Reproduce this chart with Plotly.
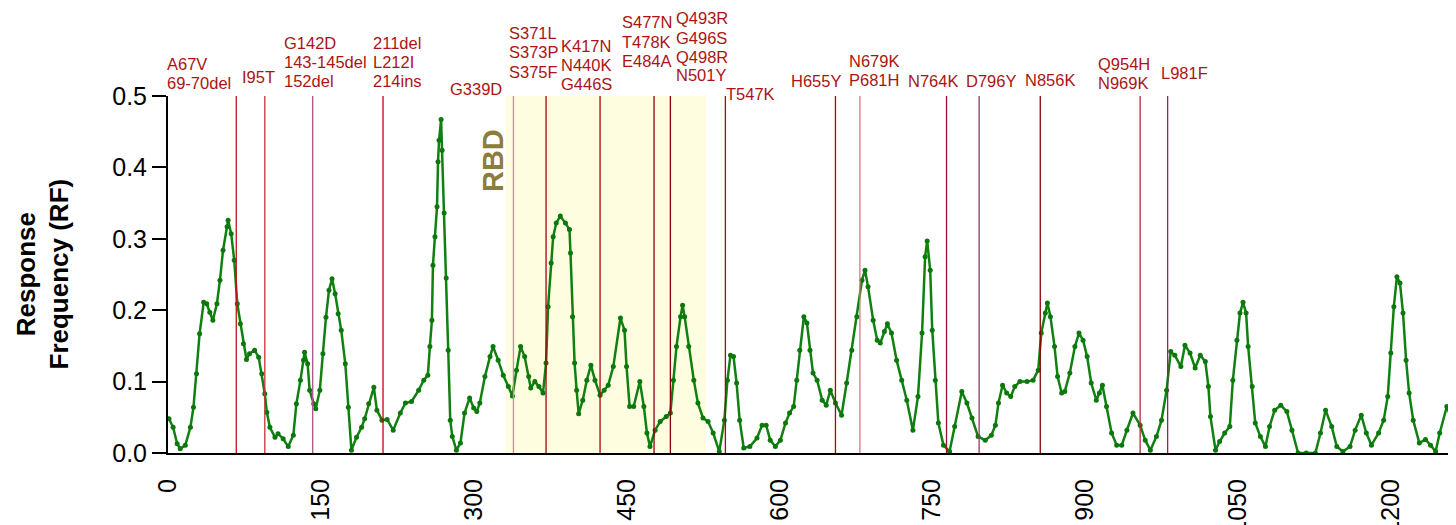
import plotly.graph_objects as go

# ---------------- data ----------------
residue_nterm = [1, 5, 9, 12, 17, 22, 25, 28, 31, 35, 38, 41, 44, 48, 51, 54, 58, 59, 62, 65, 68, 71, 74, 77, 80,
                 85, 89, 92, 95, 97, 100, 105, 108, 113, 118, 123, 126, 130, 133, 134, 137, 139, 143, 145, 149,
                 152, 155, 158, 161, 164, 167, 170, 174, 177, 180, 185, 190, 193, 197, 202, 205, 210]
rf_nterm = [0.048, 0.036, 0.013, 0.006, 0.011, 0.036, 0.064, 0.111, 0.167, 0.211, 0.209, 0.197, 0.186, 0.209,
            0.242, 0.284, 0.317, 0.326, 0.307, 0.270, 0.209, 0.181, 0.153, 0.131, 0.139, 0.144, 0.134, 0.111,
            0.083, 0.057, 0.036, 0.022, 0.027, 0.020, 0.009, 0.025, 0.069, 0.102, 0.130, 0.141, 0.125, 0.088,
            0.069, 0.062, 0.088, 0.139, 0.190, 0.228, 0.244, 0.223, 0.195, 0.172, 0.125, 0.064, 0.004, 0.022,
            0.036, 0.048, 0.069, 0.092, 0.060, 0.046]

residue_mid = [215, 221, 228, 233, 239, 246, 251, 255, 257, 259, 260, 262, 264, 265, 266, 268, 269, 271, 273,
               275, 277, 279, 283, 287, 291, 296, 300, 303, 306, 311, 316, 319, 324, 329, 334, 338, 342, 346,
               350, 354, 356, 360, 364, 368, 371, 373, 376, 378, 381, 385, 390, 394, 395, 397, 399, 401, 403,
               407, 411, 415, 419, 424]
rf_mid = [0.047, 0.032, 0.056, 0.070, 0.072, 0.088, 0.102, 0.109, 0.149, 0.186, 0.263, 0.303, 0.345, 0.408,
          0.438, 0.467, 0.424, 0.336, 0.245, 0.144, 0.046, 0.023, 0.004, 0.014, 0.056, 0.077, 0.063, 0.058,
          0.070, 0.107, 0.135, 0.149, 0.130, 0.109, 0.093, 0.080, 0.116, 0.149, 0.135, 0.107, 0.091, 0.100,
          0.093, 0.084, 0.126, 0.205, 0.266, 0.303, 0.322, 0.332, 0.322, 0.313, 0.280, 0.191, 0.126, 0.088,
          0.055, 0.074, 0.102, 0.123, 0.102, 0.081]

residue_s1s2 = [428, 432, 437, 444, 448, 450, 453, 457, 463, 467, 470, 473, 478, 483, 489, 493, 496, 499, 503,
                505, 507, 511, 516, 520, 525, 530, 535, 541, 546, 549, 552, 555, 558, 561, 565, 571, 578, 583,
                587, 591, 596, 601, 606, 610, 614, 617, 620, 624, 627, 630, 633, 637, 642, 646, 650, 655, 661,
                666, 671, 676, 681, 684, 687, 692, 696, 699, 703, 706, 710, 715, 720, 725, 731, 736, 740, 743,
                745, 748, 750, 753, 756, 761, 767, 772, 779, 784, 789, 795]
rf_s1s2 = [0.088, 0.095, 0.121, 0.189, 0.172, 0.121, 0.065, 0.065, 0.100, 0.065, 0.028, 0.009, 0.032, 0.044,
           0.051, 0.056, 0.102, 0.149, 0.191, 0.207, 0.191, 0.149, 0.102, 0.070, 0.049, 0.044, 0.028, 0.002,
           0.046, 0.102, 0.137, 0.135, 0.098, 0.046, 0.007, 0.009, 0.021, 0.039, 0.039, 0.018, 0.009, 0.018,
           0.042, 0.056, 0.065, 0.102, 0.144, 0.191, 0.182, 0.144, 0.112, 0.102, 0.074, 0.067, 0.088, 0.070,
           0.053, 0.098, 0.144, 0.191, 0.242, 0.256, 0.233, 0.186, 0.158, 0.154, 0.170, 0.181, 0.168, 0.130,
           0.102, 0.074, 0.032, 0.079, 0.168, 0.275, 0.297, 0.256, 0.172, 0.102, 0.042, 0.011, 0.002, 0.037,
           0.086, 0.070, 0.049, 0.023]

residue_cterm = [802, 808, 812, 815, 819, 823, 827, 831, 836, 843, 849, 854, 857, 861, 863, 866, 870, 873, 877,
                 880, 885, 890, 894, 898, 902, 906, 911, 914, 917, 921, 926, 931, 936, 941, 947, 954, 959, 964,
                 970, 975, 980, 984, 988, 994, 998, 1003, 1008, 1013, 1018, 1021, 1023, 1028, 1032, 1037, 1042,
                 1045, 1049, 1052, 1055, 1058, 1060, 1064, 1067, 1072, 1077, 1081, 1086, 1092, 1098, 1103, 1109,
                 1117, 1126, 1131, 1136, 1142, 1147, 1153, 1160, 1165, 1171, 1176, 1181, 1188, 1193, 1197, 1200,
                 1203, 1206, 1209, 1212, 1215, 1218, 1222, 1228, 1234, 1239, 1244, 1248, 1255, 1260, 1264]
rf_cterm = [0.018, 0.025, 0.039, 0.070, 0.095, 0.084, 0.079, 0.093, 0.100, 0.100, 0.102, 0.116, 0.168, 0.196,
            0.210, 0.191, 0.149, 0.107, 0.084, 0.086, 0.112, 0.149, 0.168, 0.158, 0.135, 0.098, 0.074, 0.084,
            0.095, 0.065, 0.028, 0.011, 0.011, 0.032, 0.056, 0.039, 0.018, 0.004, 0.023, 0.046, 0.088, 0.142,
            0.137, 0.121, 0.151, 0.140, 0.119, 0.137, 0.128, 0.093, 0.051, 0.004, 0.016, 0.028, 0.037, 0.102,
            0.158, 0.196, 0.211, 0.196, 0.149, 0.093, 0.042, 0.023, 0.009, 0.037, 0.060, 0.067, 0.058, 0.032,
            0.000, 0.000, 0.000, 0.028, 0.060, 0.037, 0.009, 0.002, 0.009, 0.032, 0.053, 0.028, 0.011, 0.028,
            0.046, 0.079, 0.140, 0.205, 0.247, 0.238, 0.196, 0.130, 0.084, 0.046, 0.014, 0.019, 0.011, 0.002,
            0.028, 0.065, 0.046, 0.030]

residue = residue_nterm + residue_mid + residue_s1s2 + residue_cterm
rf = rf_nterm + rf_mid + rf_s1s2 + rf_cterm
assert len(residue) == len(rf)

mutation_pos = [67, 95, 142, 211, 339, 371, 424, 477, 493, 547, 655, 679, 764, 796, 856, 954, 981]
mutation_color = ["#c0101a", "#c8303a", "#b0508a", "#c00010", "#d08894", "#a80010", "#b00010", "#900010",
                  "#800010", "#b00010", "#b00010", "#d07880", "#a01030", "#a03070", "#8b0000", "#b02838",
                  "#a01868"]

label_texts = [
    ["A67V", "69-70del"],
    ["I95T"],
    ["G142D", "143-145del", "152del"],
    ["211del", "L212I", "214ins"],
    ["G339D"],
    ["S371L", "S373P", "S375F"],
    ["K417N", "N440K", "G446S"],
    ["S477N", "T478K", "E484A"],
    ["Q493R", "G496S", "Q498R", "N501Y"],
    ["T547K"],
    ["H655Y"],
    ["N679K", "P681H"],
    ["N764K"],
    ["D796Y"],
    ["N856K"],
    ["Q954H", "N969K"],
    ["L981F"],
]

rbd_start, rbd_end = 331, 528
x_ticks = [0, 150, 300, 450, 600, 750, 900, 1050, 1200]
y_ticks = [0.0, 0.1, 0.2, 0.3, 0.4, 0.5]

# ---------------- layout (pixels) ----------------
# the page body adds an 8px offset, so the figure is sized to end at the window edge
OFF = 8
W, H = 1456 - OFF, 525 - OFF
ML, MR, MT, MB = 168 - OFF, 0, 96 - OFF, 72
PW, PH = W - ML - MR, H - MT - MB
X_MAX = PW / 1.019

# label placement in window pixels: (left px, centre y px of each line)
label_layout = [
    (165, [64, 83]), (240, [77]), (282, [43, 62, 81]), (371, [43, 62, 81]), (448, [89]),
    (507, [33, 52, 72]), (559, [46, 65, 84]), (620, [22, 42, 61]), (674, [18, 38, 57, 75]),
    (724, [94]), (789, [81]), (847, [61, 80]), (906, [81]), (964, [81]), (1023, [80]),
    (1096, [64, 83]), (1159, [73]),
]
PLOT_LEFT, PLOT_BOTTOM = 168, 453

FONT = "Arial, Liberation Sans, Helvetica, sans-serif"
LABEL_COLOR = "#ab1414"

fig = go.Figure()

fig.add_trace(go.Scatter(
    x=residue, y=rf, mode="lines+markers",
    line=dict(color="#108010", width=2.5),
    marker=dict(color="#0a780a", size=5),
    showlegend=False, cliponaxis=True,
))

shapes = [dict(type="rect", xref="x", yref="paper", x0=rbd_start, x1=rbd_end, y0=0, y1=1,
               fillcolor="#fffde0", line=dict(width=0), layer="below")]
for pos, col in zip(mutation_pos, mutation_color):
    shapes.append(dict(type="line", xref="x", yref="paper", x0=pos, x1=pos, y0=0, y1=1,
                       line=dict(color=col, width=1.3), layer="above"))

annotations = []
for lines, (left_px, ys) in zip(label_texts, label_layout):
    for t, ypx in zip(lines, ys):
        annotations.append(dict(
            text=t, xref="paper", yref="paper",
            x=(left_px - PLOT_LEFT) / PW, y=(PLOT_BOTTOM - ypx) / PH,
            xanchor="left", yanchor="middle", showarrow=False,
            font=dict(family=FONT, size=16.5, color=LABEL_COLOR),
        ))

annotations.append(dict(
    text="<b>RBD</b>", xref="x", yref="y", x=319, y=0.409, textangle=-90,
    showarrow=False, xanchor="center", yanchor="middle",
    font=dict(family=FONT, size=29, color="#8c7d3c"),
))
annotations.append(dict(
    text="<b>Response<br>Frequency (RF)</b>", xref="paper", yref="paper",
    x=(42 - PLOT_LEFT) / PW, y=0.5, textangle=-90, showarrow=False,
    xanchor="center", yanchor="middle",
    font=dict(family=FONT, size=26, color="black"),
))

fig.update_layout(
    width=W, height=H,
    margin=dict(l=ML, r=MR, t=MT, b=MB, autoexpand=False),
    paper_bgcolor="white", plot_bgcolor="white",
    shapes=shapes, annotations=annotations,
    font=dict(family=FONT, color="black"),
    xaxis=dict(
        range=[0, X_MAX], tickmode="array", tickvals=x_ticks,
        ticktext=[str(v) for v in x_ticks], tickangle=-90,
        showline=True, linecolor="black", linewidth=2,
        ticks="", ticklabelstandoff=14,
        tickfont=dict(family=FONT, size=25, color="black"),
        showgrid=False, zeroline=False,
    ),
    yaxis=dict(
        range=[0, 0.5], tickmode="array", tickvals=y_ticks,
        ticktext=[f"{v:.1f}" for v in y_ticks],
        showline=True, linecolor="black", linewidth=2,
        ticks="outside", ticklen=14, tickwidth=2, tickcolor="black",
        tickfont=dict(family=FONT, size=25, color="black"),
        showgrid=False, zeroline=False,
    ),
)

fig.write_html("out.html")
